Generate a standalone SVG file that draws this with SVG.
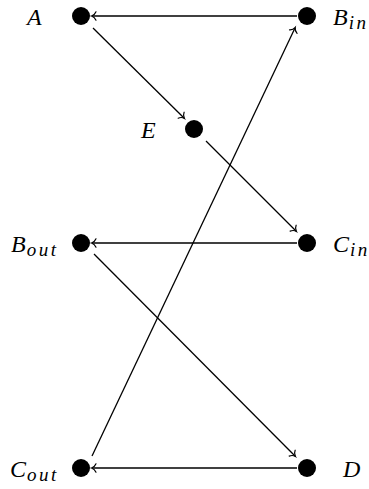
<svg xmlns="http://www.w3.org/2000/svg" width="369" height="489" viewBox="0 0 369 489">
<style>
.n{fill:#000}
.e{stroke:#000;stroke-width:1.3;fill:none;marker-end:url(#to)}
.t{font-family:"Liberation Serif",serif;font-style:italic;font-size:24px;fill:#000}
.s{font-size:19px;letter-spacing:2.5px}
</style>
<defs>
<marker id="to" markerUnits="userSpaceOnUse" markerWidth="12" markerHeight="12" viewBox="-6 -6 12 12" refX="0" refY="0" orient="auto">
<path d="M-4 -4.2 C-3 -1.6 -0.8 -0.4 0.6 0 C-0.8 0.4 -3 1.6 -4 4.2" stroke="#000" stroke-width="1.2" fill="none" stroke-linecap="round"/>
</marker>
</defs>
<g id="connectors">
<line class="e" x1="297" y1="16" x2="92" y2="16"/>
<line class="e" x1="93" y1="28" x2="184" y2="118"/>
<line class="e" x1="206" y1="141" x2="296" y2="231"/>
<line class="e" x1="297" y1="243" x2="92" y2="243"/>
<line class="e" x1="94" y1="254" x2="295" y2="456"/>
<line class="e" x1="92" y1="456" x2="295" y2="28"/>
<line class="e" x1="297" y1="468" x2="92" y2="468"/>
</g>
<g id="A"><circle class="n" cx="81" cy="16" r="9"/><text class="t" x="27" y="25">A</text></g>
<g id="Bin"><circle class="n" cx="307" cy="16" r="9"/><text class="t" x="333" y="25">B<tspan class="s" dx="1" dy="4">in</tspan></text></g>
<g id="E"><circle class="n" cx="194" cy="129" r="9"/><text class="t" x="141" y="138">E</text></g>
<g id="Bout"><circle class="n" cx="81" cy="243" r="9"/><text class="t" x="11" y="252">B<tspan class="s" dx="1" dy="4">out</tspan></text></g>
<g id="Cin"><circle class="n" cx="307" cy="243" r="9"/><text class="t" x="333" y="252">C<tspan class="s" dx="1" dy="4">in</tspan></text></g>
<g id="Cout"><circle class="n" cx="81" cy="468" r="9"/><text class="t" x="10" y="477">C<tspan class="s" dx="1" dy="4">out</tspan></text></g>
<g id="D"><circle class="n" cx="307" cy="468" r="9"/><text class="t" x="343" y="477">D</text></g>
</svg>
